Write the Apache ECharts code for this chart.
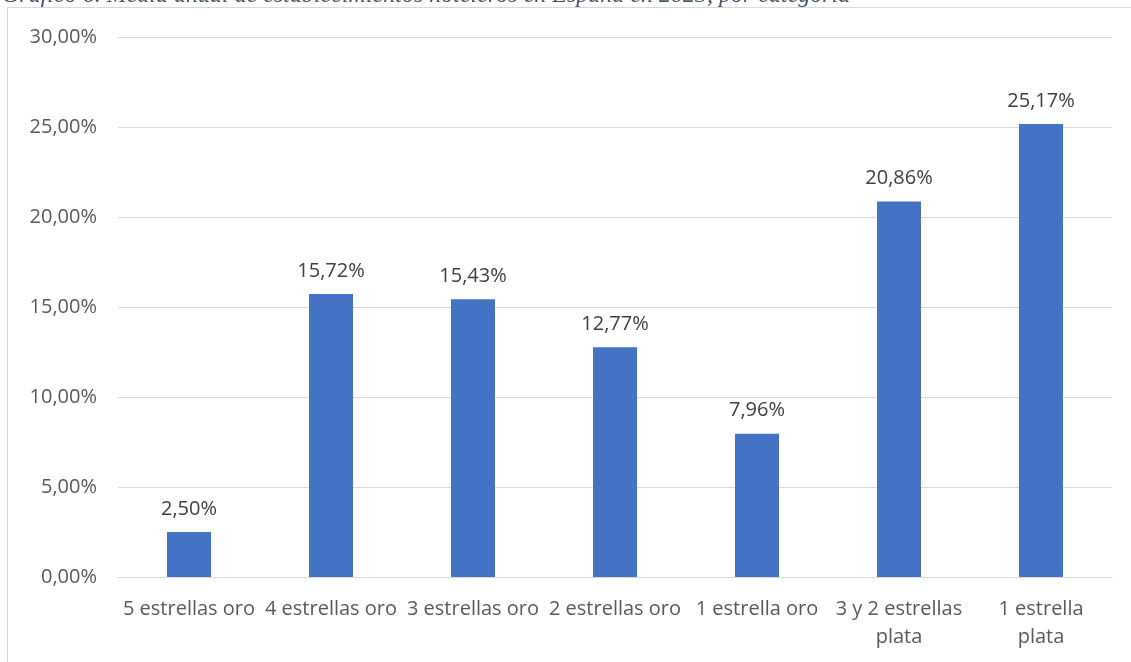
<!DOCTYPE html>
<html>
<head>
<meta charset="utf-8">
<script src="https://cdn.jsdelivr.net/npm/echarts@6/dist/echarts.min.js"></script>
<style>
  html, body { margin: 0; padding: 0; background: #ffffff; }
  #chart { width: 1131px; height: 662px; }
</style>
</head>
<body>
<div id="chart"></div>
<script>
// Hotel establishments by category, annual average share (Spain, 2023)
const categories = [
  '5 estrellas oro',
  '4 estrellas oro',
  '3 estrellas oro',
  '2 estrellas oro',
  '1 estrella oro',
  '3 y 2 estrellas\nplata',
  '1 estrella\nplata'
];
const shares = [2.50, 15.72, 15.43, 12.77, 7.96, 20.86, 25.17];
const captionText = 'Gráfico 6. Media anual de establecimientos hoteleros en España en 2023, por categoría';

// Spanish-style percent: comma decimal separator, two decimals
const fmtPct = v => v.toFixed(2).replace('.', ',') + '%';

const chart = echarts.init(document.getElementById('chart'), null, { renderer: 'canvas' });

chart.setOption({
  backgroundColor: '#ffffff',
  animation: false,
  textStyle: { fontFamily: '"Open Sans", sans-serif' },
  graphic: [
    {
      type: 'text',
      x: 2,
      y: 8,
      style: {
        text: captionText,
        font: 'italic 24px "Liberation Serif", serif',
        fill: '#44546A',
        verticalAlign: 'bottom'
      }
    },
    {
      type: 'rect',
      shape: { x: 7.5, y: 7.5, width: 1300, height: 800 },
      style: { fill: 'none', stroke: '#d9d9d9', lineWidth: 1 },
      silent: true
    }
  ],
  grid: { left: 118, right: 19, top: 37, bottom: 85, containLabel: false },
  xAxis: {
    type: 'category',
    data: categories,
    axisLine: { show: true, lineStyle: { color: '#d9d9d9', width: 1 } },
    axisTick: { show: false },
    axisLabel: {
      color: '#595959',
      fontSize: 20,
      lineHeight: 28,
      margin: 18,
      interval: 0
    }
  },
  yAxis: {
    type: 'value',
    min: 0,
    max: 30,
    interval: 5,
    axisLine: { show: false },
    axisTick: { show: false },
    splitLine: { lineStyle: { color: '#d9d9d9', width: 1 } },
    axisLabel: {
      color: '#595959',
      fontSize: 20,
      margin: 21,
      formatter: v => fmtPct(v)
    }
  },
  series: [
    {
      type: 'bar',
      data: shares,
      barWidth: 44,
      itemStyle: { color: '#4472C4' },
      label: {
        show: true,
        position: 'top',
        distance: 13,
        color: '#404040',
        fontSize: 20,
        formatter: p => fmtPct(p.value)
      }
    }
  ]
});
</script>
</body>
</html>
